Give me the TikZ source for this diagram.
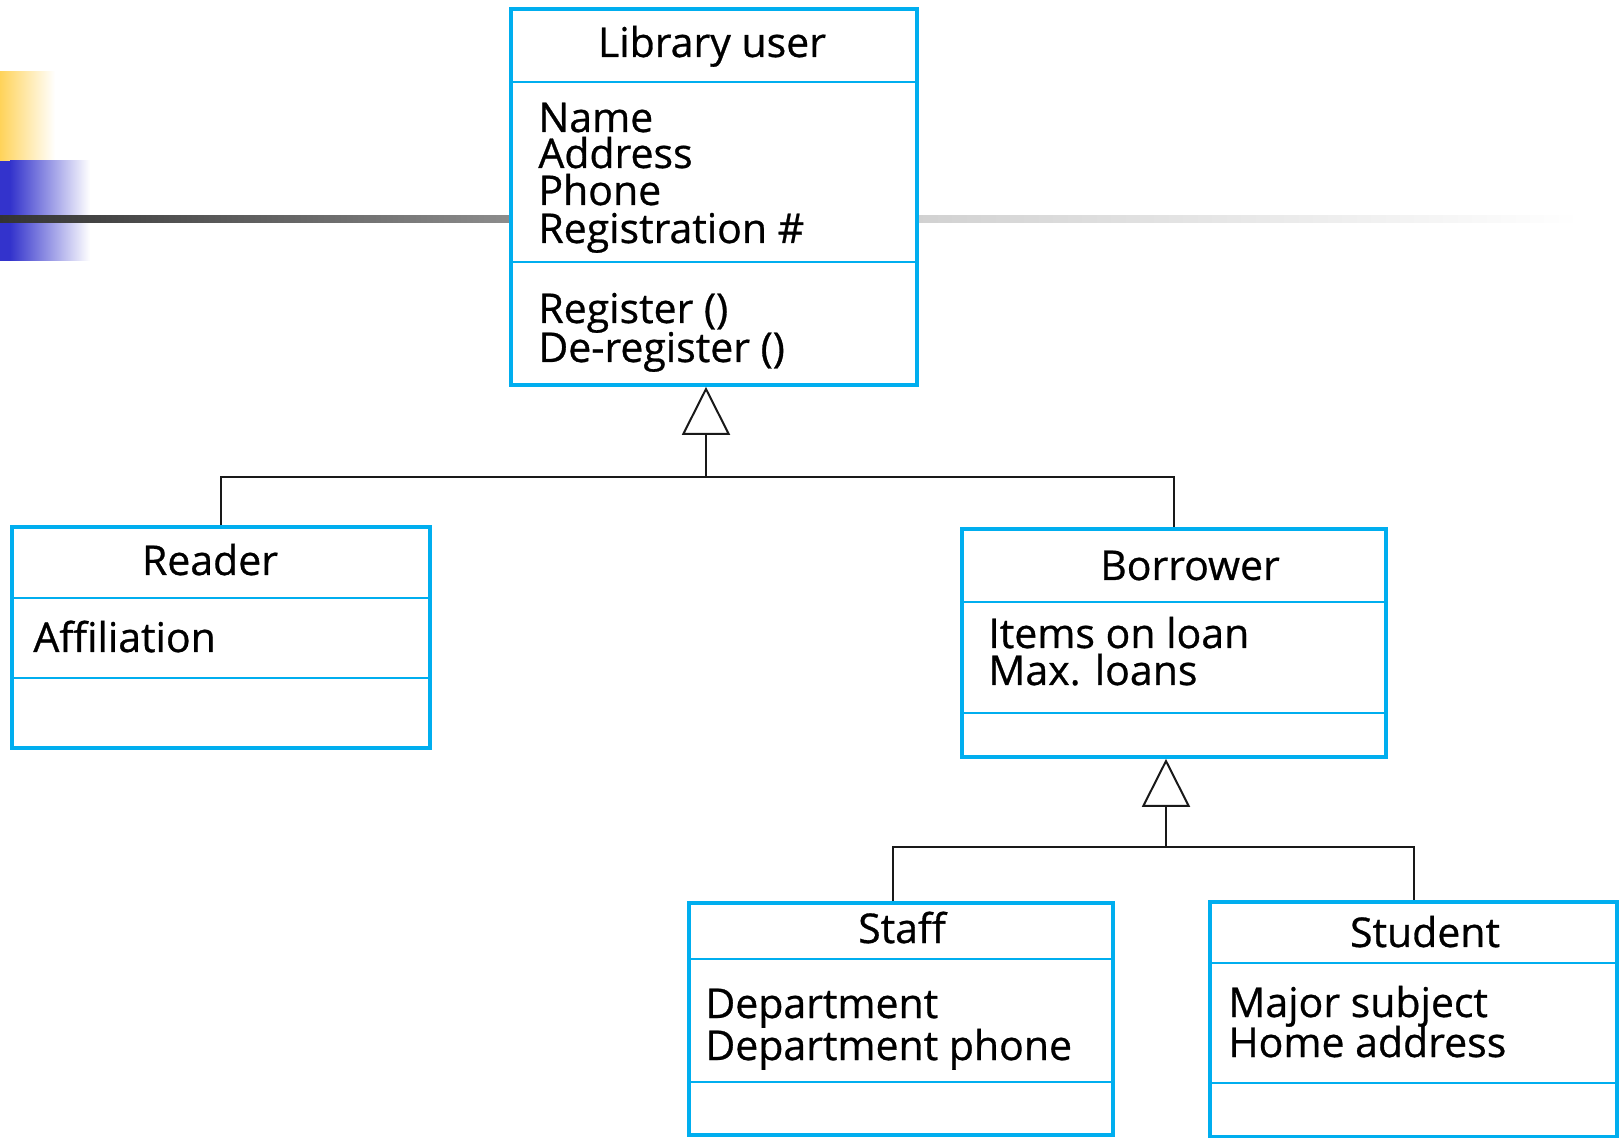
\documentclass[tikz,border=0pt]{standalone}
\usepackage{fontspec}
\setmainfont{Open Sans}[FakeBold=0.7]
\usetikzlibrary{arrows.meta}
\usetikzlibrary{fit}
\definecolor{umlblue}{RGB}{0,174,239}
\definecolor{barblue}{RGB}{51,51,204}
\definecolor{baryellow}{RGB}{255,211,90}

\begin{document}
\begin{tikzpicture}[x=0.5pt,y=-0.5pt,>={Triangle[open,length=24pt,width=24pt]}]
			\tikzstyle{classbox}=[draw=umlblue,line width=1.8pt,fill=white,inner sep=0pt];
			\tikzstyle{divider}=[draw=umlblue,line width=0.8pt];
			\tikzstyle{title}=[anchor=base,inner sep=0pt,font=\fontsize{20.5}{20.5}\selectfont];
			\tikzstyle{attr}=[anchor=base west,inner sep=0pt,font=\fontsize{20.5}{20.5}\selectfont];
			\tikzstyle{conn}=[draw=black!90,line width=1pt,line join=miter];
			\useasboundingbox (0,0) rectangle (1624,1138);
			% slide decoration
			\fill[left color=baryellow,right color=white] (0,72) rectangle (55,161);
			\fill[barblue] (0,161) rectangle (10,261);
			\fill[left color=barblue,right color=white] (10,161) rectangle (90,261);
			\fill[left color=black!80,right color=black!45] (0,216) rectangle (511,223);
			\fill[left color=black!18,right color=white] (917,216) rectangle (1580,223);
			% classes
			\node[classbox,fit={(511,9) (917,385)}](user){};
			\node[classbox,fit={(12,527) (430,748)}](reader){};
			\node[classbox,fit={(962,529) (1386,757)}](borrower){};
			\node[classbox,fit={(689,903) (1113,1135)}](staff){};
			\node[classbox,fit={(1210,902) (1617,1137)}](student){};
			\draw[divider](511,82)--(917,82);
			\draw[divider](511,262)--(917,262);
			\draw[divider](12,598)--(430,598);
			\draw[divider](12,678)--(430,678);
			\draw[divider](962,602)--(1386,602);
			\draw[divider](962,713)--(1386,713);
			\draw[divider](689,959)--(1113,959);
			\draw[divider](689,1082)--(1113,1082);
			\draw[divider](1210,963)--(1617,963);
			\draw[divider](1210,1083)--(1617,1083);
			% texts
			\node[title](user title)at(712,57){Library user};
			\node[attr](user name)at(538,132){Name};
			\node[attr](user address)at(538,168){Address};
			\node[attr](user phone)at(538,205){Phone};
			\node[attr](user reg)at(538,243){Registration \#};
			\node[attr](user op1)at(538,323){Register ()};
			\node[attr](user op2)at(538,362){De-register ()};
			\node[title](reader title)at(210,575){Reader};
			\node[attr](reader aff)at(33,652){Affiliation};
			\node[title](borrower title)at(1190,580){Borrower};
			\node[attr](borrower items)at(988,648){Items on loan};
			\node[attr](borrower max)at(988,685){Max. loans};
			\node[title](staff title)at(902,943){Staff};
			\node[attr](staff dept)at(705,1018){Department};
			\node[attr](staff phone)at(705,1060){Department phone};
			\node[title](student title)at(1425,947){Student};
			\node[attr](student major)at(1228,1017){Major subject};
			\node[attr](student home)at(1228,1057){Home address};
			% generalisation
			\coordinate(j1)at(706,477);
			\coordinate(j2)at(1166,847);
			\draw[conn](reader.north)|-(j1)-|(borrower.north);
			\draw[conn,->](j1)--(j1|-user.south);
			\draw[conn]([xshift=-4pt]staff.north)|-(j2)-|(student.north);
			\draw[conn,->](j2)--(j2|-borrower.south);
		\end{tikzpicture}
\end{document}
